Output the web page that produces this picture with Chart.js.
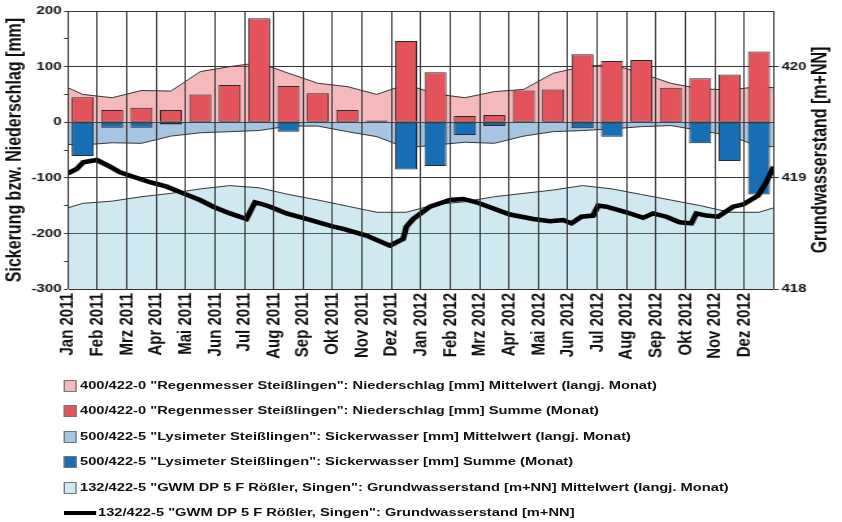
<!DOCTYPE html>
<html>
<head>
<meta charset="utf-8">
<script src="https://cdn.jsdelivr.net/npm/chart.js@4.4.1/dist/chart.umd.min.js"></script>
<style>
  html, body { margin: 0; padding: 0; background: #fff; }
  /* the reference is stretched horizontally, so draw narrow and stretch */
  #wrap { position: absolute; left: 0; top: 0; width: 648px; height: 522px; transform: scaleX(1.2994); transform-origin: 0 0; }
  #chart { position: absolute; left: 0; top: 0; }
  .row { position: absolute; left: 0; height: 14px; line-height: 14px; font: bold 11.3px "Liberation Sans", Arial, sans-serif; color: #111; white-space: nowrap; }
  .row .box { position: absolute; left: 48.7px; top: 1px; width: 10.8px; height: 12px; box-sizing: border-box; border: 1px solid #777; }
  .row .strich { position: absolute; left: 48.5px; top: 5px; width: 25.5px; height: 4px; background: #000; }
</style>
</head>
<body>
<div id="wrap">
  <canvas id="chart" width="648" height="372"></canvas>
</div>
<div id="legende" style="position:absolute;left:0;top:0;width:648px;transform:scaleX(1.2994);transform-origin:0 0;"></div>
<script>
const monate = ['Jan 2011', 'Feb 2011', 'Mrz 2011', 'Apr 2011', 'Mai 2011', 'Jun 2011',
  'Jul 2011', 'Aug 2011', 'Sep 2011', 'Okt 2011', 'Nov 2011', 'Dez 2011',
  'Jan 2012', 'Feb 2012', 'Mrz 2012', 'Apr 2012', 'Mai 2012', 'Jun 2012',
  'Jul 2012', 'Aug 2012', 'Sep 2012', 'Okt 2012', 'Nov 2012', 'Dez 2012'];

// monthly sums [mm]
const niederschlagSumme = [45, 22, 26, 22, 50, 67, 187, 65, 52, 22, 3, 146,
  90, 11, 13, 57, 59, 122, 110, 112, 62, 79, 86, 127];
const sickerwasserSumme = [-61, -10, -10, -4, 0, 0, 0, -17, 0, 0, 0, -85,
  -79, -23, -7, 0, 0, -11, -26, 0, 0, -38, -70, -130];

// long-term monthly means (with the values at the left and right edge)
const niederschlagMittel = [50, 44, 57, 56, 91, 100, 107, 88, 70, 64, 50, 68,
  51, 44, 55, 59, 88, 100, 104, 88, 70, 60, 58, 64];
const niederschlagMittelRand = [62, 62];
const sickerwasserMittel = [-41, -37, -38, -25, -19, -17, -15, -7, -7, -17, -26, -46,
  -41, -36, -38, -25, -17, -15, -12, -8, -6, -15, -24, -44];
const sickerwasserMittelRand = [-40, -44];
const gwMittel = [418.77, 418.79, 418.83, 418.86, 418.90, 418.93, 418.91, 418.85, 418.80, 418.745, 418.69, 418.69,
  418.76, 418.785, 418.83, 418.86, 418.89, 418.93, 418.90, 418.85, 418.80, 418.75, 418.69, 418.69];
const gwMittelRand = [418.73, 418.73];

// groundwater level, time in months since 1 Jan 2011
const gwZeit = [0, 0.30, 0.52, 0.98, 1.43, 1.77, 2.22, 2.79, 3.36, 3.92, 4.49, 4.94, 5.51, 6.07,
  6.36, 6.64, 6.87, 7.43, 8.11, 9.02, 9.36, 10.15, 10.95, 11.40, 11.51, 11.74, 12.31, 12.99,
  13.44, 13.89, 15.03, 15.82, 16.39, 16.84, 17.12, 17.46, 17.86, 18.03, 18.31, 18.99, 19.56,
  19.90, 20.35, 20.80, 21.20, 21.37, 21.71, 22.11, 22.62, 22.96, 23.47, 23.75, 24.0];
const gwStand = [419.04, 419.08, 419.14, 419.16, 419.10, 419.05, 419.01, 418.96, 418.92, 418.86, 418.80, 418.74, 418.68, 418.63,
  418.78, 418.76, 418.74, 418.68, 418.63, 418.56, 418.54, 418.48, 418.39, 418.45, 418.56, 418.63, 418.74, 418.80,
  418.81, 418.78, 418.67, 418.63, 418.61, 418.62, 418.59, 418.65, 418.66, 418.75, 418.74, 418.69, 418.64,
  418.68, 418.65, 418.60, 418.59, 418.68, 418.66, 418.65, 418.74, 418.76, 418.84, 418.96, 419.10];

const ctx = document.getElementById('chart');
const schrift = '"Liberation Sans", Arial, sans-serif';

// values sit in the middle of their month
function monatsMitte(werte) {
  return werte.map((v, i) => ({ x: i + 0.5, y: v }));
}
function flaeche(werte, rand) {
  return [{ x: 0, y: rand[0] }, ...monatsMitte(werte), { x: monate.length, y: rand[1] }];
}

// month lines at the x ticks, as thin filled rects with a clean canvas state
const monatsLinien = {
  id: 'monatsLinien',
  afterDraw(chart) {
    const c = chart.ctx;
    const a = chart.chartArea;
    const x = chart.scales.x;
    c.save();
    c.setTransform(1, 0, 0, 1, 0, 0);
    c.globalAlpha = 1;
    c.globalCompositeOperation = 'source-over';
    c.fillStyle = '#333';
    x.ticks.forEach(t => {
      const px = Math.round(x.getPixelForValue(t.value) - 0.5);
      c.fillRect(px, a.top, 1, a.bottom - a.top);
    });
    c.restore();
  }
};

const rechterTitel = {
  id: 'rechterTitel',
  afterDraw(chart) {
    const c = chart.ctx;
    const a = chart.chartArea;
    c.save();
    c.translate(632, (a.top + a.bottom) / 2);
    c.rotate(-Math.PI / 2);
    c.font = 'bold 16px ' + schrift;
    c.fillStyle = '#111';
    c.textAlign = 'center';
    c.textBaseline = 'middle';
    c.fillText('Grundwasserstand [m+NN]', 0, 0);
    c.restore();
  }
};

const chart = new Chart(ctx, {
  type: 'bar',
  data: {
    datasets: [{
      type: 'line',
      label: '132/422-5 "GWM DP 5 F Rößler, Singen": Grundwasserstand [m+NN]',
      data: gwZeit.map((t, i) => ({ x: t, y: gwStand[i] })),
      yAxisID: 'y2',
      borderColor: '#000',
      borderWidth: 4.5,
      pointRadius: 0,
      fill: false,
      order: 0
    }, {
      label: '500/422-5 "Lysimeter Steißlingen": Sickerwasser [mm] Summe (Monat)',
      data: monatsMitte(sickerwasserSumme),
      backgroundColor: '#166eb7',
      borderColor: '#2a2a2a',
      borderWidth: 1,
      borderSkipped: false,
      grouped: false,
      categoryPercentage: 1,
      barPercentage: 0.75,
      order: 1
    }, {
      label: '400/422-0 "Regenmesser Steißlingen": Niederschlag [mm] Summe (Monat)',
      data: monatsMitte(niederschlagSumme),
      backgroundColor: '#e4525a',
      borderColor: '#2a2a2a',
      borderWidth: 1,
      borderSkipped: false,
      grouped: false,
      categoryPercentage: 1,
      barPercentage: 0.75,
      order: 2
    }, {
      type: 'line',
      label: '500/422-5 "Lysimeter Steißlingen": Sickerwasser [mm] Mittelwert (langj. Monat)',
      data: flaeche(sickerwasserMittel, sickerwasserMittelRand),
      backgroundColor: 'rgba(30,110,180,0.4)',
      borderColor: '#333',
      borderWidth: 1,
      pointRadius: 0,
      fill: 'origin',
      order: 3
    }, {
      type: 'line',
      label: '400/422-0 "Regenmesser Steißlingen": Niederschlag [mm] Mittelwert (langj. Monat)',
      data: flaeche(niederschlagMittel, niederschlagMittelRand),
      backgroundColor: 'rgba(225,80,85,0.4)',
      borderColor: '#333',
      borderWidth: 1,
      pointRadius: 0,
      fill: 'origin',
      order: 4
    }, {
      type: 'line',
      label: '132/422-5 "GWM DP 5 F Rößler, Singen": Grundwasserstand [m+NN] Mittelwert (langj. Monat)',
      data: flaeche(gwMittel, gwMittelRand),
      yAxisID: 'y2',
      backgroundColor: 'rgba(100,180,205,0.3)',
      borderColor: '#333',
      borderWidth: 1,
      pointRadius: 0,
      fill: 'start',
      order: 5
    }]
  },
  options: {
    responsive: false,
    animation: false,
    layout: { padding: { top: 11 } },
    plugins: {
      legend: { display: false },
      tooltip: { enabled: false }
    },
    scales: {
      x: {
        type: 'linear',
        min: 0,
        max: 24,
        offset: false,
        afterFit: s => { s.height = 83; },
        grid: { color: '#333', offset: false, drawTicks: false },
        ticks: {
          stepSize: 1,
          autoSkip: false,
          minRotation: 90,
          maxRotation: 90,
          padding: 4,
          color: '#111',
          font: { family: schrift, size: 15, weight: 'bold' },
          callback: v => monate[v] ?? ''
        }
      },
      y: {
        min: -300,
        max: 200,
        afterFit: s => { s.width = 52.3; },
        grid: {
          color: c => (c.tick && c.tick.value % 100 === 0) ? '#333' : 'rgba(0,0,0,0)',
          tickColor: '#333',
          tickLength: 3
        },
        ticks: {
          stepSize: 50,
          padding: 2,
          color: '#111',
          font: { family: schrift, size: 11.5, weight: 'bold' },
          callback: v => v % 100 === 0 ? v : ''
        },
        title: {
          display: true,
          text: 'Sickerung bzw. Niederschlag [mm]',
          color: '#111',
          padding: { top: 2, bottom: 0 },
          font: { family: schrift, size: 16, weight: 'bold' }
        }
      },
      y2: {
        position: 'right',
        min: 418,
        max: 420.5,
        afterFit: s => { s.width = 52.6; },
        grid: { drawOnChartArea: false, tickColor: '#333', tickLength: 4 },
        ticks: {
          stepSize: 1,
          includeBounds: false,
          padding: 2,
          color: '#111',
          font: { family: schrift, size: 11.5, weight: 'bold' }
        }
      }
    }
  },
  plugins: [monatsLinien, rechterTitel]
});

// legend under the chart, in the order of the reference
const legendeReihenfolge = [4, 2, 3, 1, 5, 0];
const legende = document.getElementById('legende');
legendeReihenfolge.forEach((d, i) => {
  const ds = chart.data.datasets[d];
  const row = document.createElement('div');
  row.className = 'row';
  row.style.top = (385.7 + i * 25.5 - 7) + 'px';
  const sym = document.createElement('span');
  const text = document.createElement('span');
  text.style.position = 'absolute';
  if (d === 0) {
    sym.className = 'strich';
    text.style.left = '75.4px';
  } else {
    sym.className = 'box';
    sym.style.background = ds.backgroundColor;
    text.style.left = '61.6px';
  }
  text.textContent = ds.label;
  row.appendChild(sym);
  row.appendChild(text);
  legende.appendChild(row);
});
</script>
</body>
</html>
